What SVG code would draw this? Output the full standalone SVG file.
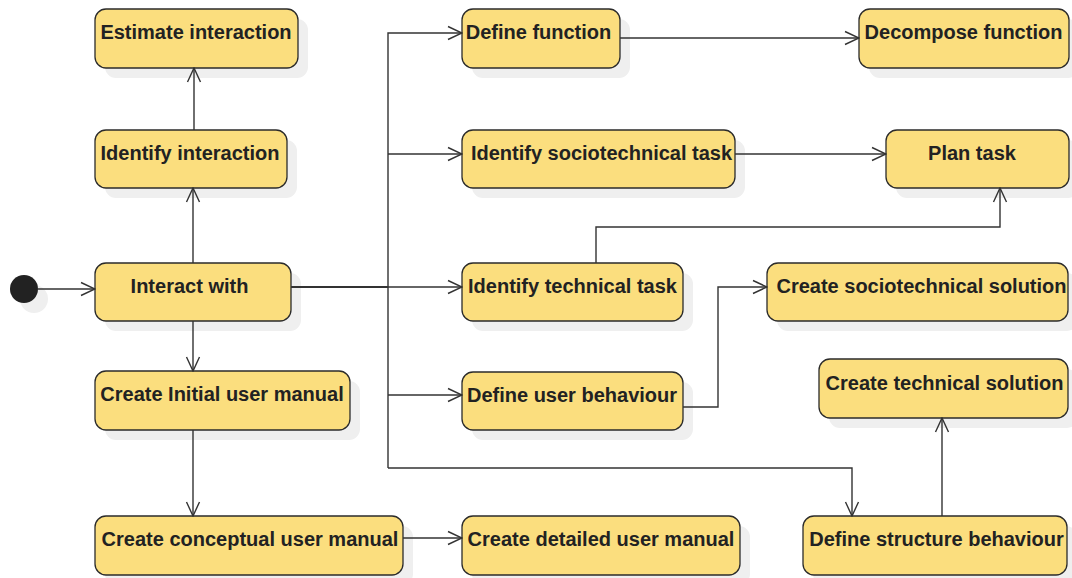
<svg xmlns="http://www.w3.org/2000/svg" width="1072" height="578" viewBox="0 0 1072 578">
<style>
.sh{fill:#efefef;stroke:none}
.box{fill:#fbde7e;stroke:#2b2b2b;stroke-width:1.3}
.t{font-family:"Liberation Sans",Arial,sans-serif;font-weight:bold;font-size:20px;fill:#222;text-anchor:middle}
.c{fill:none;stroke:#333;stroke-width:1.4}
</style>
<defs>
<marker id="a" viewBox="0 0 16 16" refX="15" refY="8" markerWidth="16" markerHeight="16" markerUnits="userSpaceOnUse" orient="auto">
<path d="M1,1.5 L15,8 L1,14.5" fill="none" stroke="#333" stroke-width="1.4"/>
</marker>
</defs>
<rect width="1072" height="578" fill="#fff"/>
<g id="start"><circle class="sh" cx="34" cy="299" r="14"/><circle cx="24" cy="289" r="14" fill="#222"/></g>
<g id="estimate"><rect class="sh" x="105" y="19" width="203" height="59" rx="11"/><rect class="box" x="95" y="9" width="203" height="59" rx="11"/><text class="t" x="196" y="39">Estimate interaction</text></g>
<g id="identify-interaction"><rect class="sh" x="105" y="140" width="192" height="58" rx="11"/><rect class="box" x="95" y="130" width="192" height="58" rx="11"/><text class="t" x="190" y="160">Identify interaction</text></g>
<g id="interact"><rect class="sh" x="105" y="273" width="196" height="58" rx="11"/><rect class="box" x="95" y="263" width="196" height="58" rx="11"/><text class="t" x="189.5" y="293">Interact with</text></g>
<g id="initial-manual"><rect class="sh" x="105" y="381" width="255" height="59" rx="11"/><rect class="box" x="95" y="371" width="255" height="59" rx="11"/><text class="t" x="222" y="401">Create Initial user manual</text></g>
<g id="conceptual-manual"><rect class="sh" x="105" y="526" width="308" height="59" rx="11"/><rect class="box" x="95" y="516" width="308" height="59" rx="11"/><text class="t" x="250" y="546">Create conceptual user manual</text></g>
<g id="detailed-manual"><rect class="sh" x="472" y="526" width="278" height="59" rx="11"/><rect class="box" x="462" y="516" width="278" height="59" rx="11"/><text class="t" x="601" y="546">Create detailed user manual</text></g>
<g id="define-function"><rect class="sh" x="472" y="19" width="158" height="59" rx="11"/><rect class="box" x="462" y="9" width="158" height="59" rx="11"/><text class="t" x="538.5" y="39">Define function</text></g>
<g id="decompose-function"><rect class="sh" x="869" y="19" width="210" height="59" rx="11"/><rect class="box" x="859" y="9" width="210" height="59" rx="11"/><text class="t" x="963.5" y="39">Decompose function</text></g>
<g id="identify-socio"><rect class="sh" x="472" y="140" width="273" height="58" rx="11"/><rect class="box" x="462" y="130" width="273" height="58" rx="11"/><text class="t" x="601.5" y="160">Identify sociotechnical task</text></g>
<g id="plan-task"><rect class="sh" x="896" y="140" width="183" height="58" rx="11"/><rect class="box" x="886" y="130" width="183" height="58" rx="11"/><text class="t" x="972" y="160">Plan task</text></g>
<g id="identify-technical"><rect class="sh" x="472" y="273" width="221" height="58" rx="11"/><rect class="box" x="462" y="263" width="221" height="58" rx="11"/><text class="t" x="572.5" y="293">Identify technical task</text></g>
<g id="create-socio"><rect class="sh" x="777" y="273" width="301" height="58" rx="11"/><rect class="box" x="767" y="263" width="301" height="58" rx="11"/><text class="t" x="921.5" y="293">Create sociotechnical solution</text></g>
<g id="define-user"><rect class="sh" x="472" y="382" width="221" height="58" rx="11"/><rect class="box" x="462" y="372" width="221" height="58" rx="11"/><text class="t" x="572" y="402">Define user behaviour</text></g>
<g id="create-technical"><rect class="sh" x="829" y="369" width="249" height="59" rx="11"/><rect class="box" x="819" y="359" width="249" height="59" rx="11"/><text class="t" x="944.5" y="390">Create technical solution</text></g>
<g id="define-structure"><rect class="sh" x="813" y="526" width="264" height="59" rx="11"/><rect class="box" x="803" y="516" width="264" height="59" rx="11"/><text class="t" x="936.5" y="546">Define structure behaviour</text></g>
<g id="connectors">
<path class="c" d="M38,289 H95" marker-end="url(#a)"/>
<path class="c" d="M194,130 V68" marker-end="url(#a)"/>
<path class="c" d="M193,263 V188" marker-end="url(#a)"/>
<path class="c" d="M193,321 V371" marker-end="url(#a)"/>
<path class="c" d="M193,430 V516" marker-end="url(#a)"/>
<path class="c" d="M403,538 H462" marker-end="url(#a)"/>
<path class="c" style="stroke-width:2" d="M291,287 H388"/>
<path class="c" d="M388,287 H462" marker-end="url(#a)"/>
<path class="c" d="M388,468 V33 H462" marker-end="url(#a)"/>
<path class="c" d="M388,154 H462" marker-end="url(#a)"/>
<path class="c" d="M388,395 H462" marker-end="url(#a)"/>
<path class="c" d="M388,468 H852 V516" marker-end="url(#a)"/>
<path class="c" d="M620,38 H859" marker-end="url(#a)"/>
<path class="c" d="M735,154 H886" marker-end="url(#a)"/>
<path class="c" d="M596,263 V227 H1000 V188" marker-end="url(#a)"/>
<path class="c" d="M683,407 H718 V287 H767" marker-end="url(#a)"/>
<path class="c" d="M942,516 V418" marker-end="url(#a)"/>
</g>
</svg>
